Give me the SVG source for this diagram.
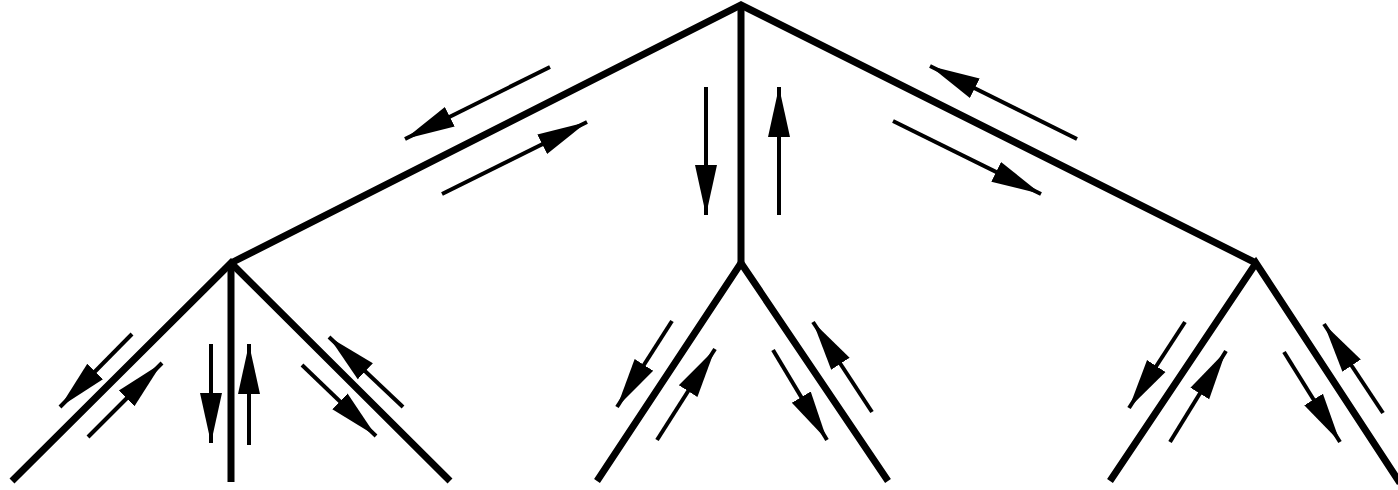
<svg xmlns="http://www.w3.org/2000/svg" width="1398" height="490" viewBox="0 0 1398 490">
<style>
.edge{fill:none;stroke:#000;stroke-width:7;stroke-linejoin:miter;stroke-linecap:butt}
.arr{fill:none;stroke:#000;stroke-width:4;stroke-linecap:butt;marker-end:url(#ah)}
</style>
<defs>
<marker id="ah" markerUnits="userSpaceOnUse" viewBox="0 0 52 26" markerWidth="52" markerHeight="26" refX="50" refY="13" orient="auto">
<path d="M0,2 L50,13 L0,24 Z" fill="#000"/>
</marker>
</defs>
<rect width="1398" height="490" fill="#fff"/>
<g id="tree">
<g id="root"><path class="edge" d="M231,263 L741,5 L1256,263"/><path class="edge" d="M741,5 L741,263"/></g>
<g id="node-left"><path class="edge" d="M12,481 L231,263 L450,481"/><path class="edge" d="M231,263 L231,482"/></g>
<g id="node-mid"><path class="edge" d="M597,481 L741,263 L888,481"/></g>
<g id="node-right"><path class="edge" d="M1110,481 L1256,263 L1400,483"/></g>
</g>
<g id="connectors">
<line class="arr" x1="550" y1="67" x2="405" y2="139"/>
<line class="arr" x1="442" y1="194" x2="587" y2="122"/>
<line class="arr" x1="706" y1="87" x2="706" y2="215"/>
<line class="arr" x1="779" y1="215" x2="779" y2="87"/>
<line class="arr" x1="1077" y1="139" x2="930" y2="66"/>
<line class="arr" x1="893" y1="121" x2="1041" y2="194"/>
<line class="arr" x1="132" y1="334" x2="60" y2="407"/>
<line class="arr" x1="88" y1="437" x2="162" y2="363"/>
<line class="arr" x1="211" y1="344" x2="211" y2="443"/>
<line class="arr" x1="249" y1="445" x2="249" y2="344"/>
<line class="arr" x1="403" y1="407" x2="329" y2="337"/>
<line class="arr" x1="302" y1="365" x2="376" y2="436"/>
<line class="arr" x1="672" y1="321" x2="617" y2="407"/>
<line class="arr" x1="657" y1="440" x2="715" y2="349"/>
<line class="arr" x1="773" y1="350" x2="827" y2="440"/>
<line class="arr" x1="872" y1="412" x2="813" y2="322"/>
<line class="arr" x1="1185" y1="322" x2="1129" y2="408"/>
<line class="arr" x1="1170" y1="442" x2="1226" y2="351"/>
<line class="arr" x1="1284" y1="352" x2="1340" y2="442"/>
<line class="arr" x1="1383" y1="413" x2="1324" y2="324"/>
</g>
</svg>
